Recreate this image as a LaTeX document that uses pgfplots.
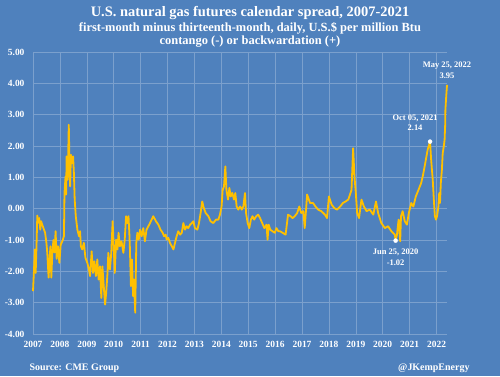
\documentclass[border=0pt]{standalone}
\usepackage{pgfplots}
\pgfplotsset{compat=1.18}
\usepackage{fontspec}
\setmainfont{Liberation Serif}
\definecolor{bg}{RGB}{79,129,189}
\definecolor{gold}{RGB}{255,192,0}
\begin{document}
\begin{tikzpicture}[x=1bp,y=1bp]
\fill[bg] (0,0) rectangle (500,376);
\useasboundingbox (0,0) rectangle (500,376);
\node[white,font=\bfseries\fontsize{14.5}{16}\selectfont] at (250,363) {U.S. natural gas futures calendar spread, 2007-2021};
\node[white,font=\bfseries\fontsize{12.5}{14}\selectfont] at (250,348) {first-month minus thirteenth-month, daily, U.S.\$ per million Btu};
\node[white,font=\bfseries\fontsize{12.5}{14}\selectfont] at (250,334) {contango (-) or backwardation (+)};
\node[white,anchor=west,font=\bfseries\fontsize{10}{12}\selectfont] at (26,8) {Source: CME Group};
\node[white,anchor=east,font=\bfseries\fontsize{10}{12}\selectfont] at (473,8) {@JKempEnergy};
\begin{axis}[
  at={(33bp,42bp)}, anchor=south west,
  scale only axis, width=414bp, height=282bp,
  xmin=2007, xmax=2022.39, ymin=-4, ymax=5,
  clip=false,
  axis line style={draw=none},
  tick style={draw=none},
  grid=major,
  grid style={color=white!25!bg, line width=0.6bp},
  xtick={2007,2008,...,2022},
  xticklabels={2007,2008,2009,2010,2011,2012,2013,2014,2015,2016,2017,2018,2019,2020,2021,2022},
  ytick={-4,-3,...,5},
  yticklabel={\pgfmathprintnumber[fixed,fixed zerofill,precision=2,assume math mode=true]{\tick}},
  xticklabel style={white,font=\bfseries\fontsize{9.5}{10}\selectfont,yshift=-4bp},
  yticklabel style={white,font=\bfseries\fontsize{9.5}{10}\selectfont,xshift=-5bp},
]
\addplot[gold, line width=1.8bp, line join=round] coordinates {
(2007.00,-2.63) (2007.04,-1.9) (2007.07,-1.30) (2007.10,-2.05) (2007.13,-1.2) (2007.16,-0.22)
(2007.19,-0.45) (2007.23,-0.30) (2007.27,-0.67) (2007.30,-0.40) (2007.36,-0.55) (2007.45,-0.77)
(2007.50,-1.10) (2007.53,-1.41) (2007.58,-2.20) (2007.62,-1.55) (2007.65,-1.20) (2007.68,-2.20)
(2007.72,-1.40) (2007.76,-1.00) (2007.80,-1.40) (2007.84,-0.72) (2007.88,-1.60) (2007.93,-1.20)
(2007.98,-1.73) (2008.03,-1.15) (2008.09,-1.04) (2008.15,-0.88) (2008.17,0.50) (2008.21,1.03)
(2008.23,0.45) (2008.25,1.67) (2008.29,0.92) (2008.31,1.8) (2008.33,2.68) (2008.35,1.77)
(2008.38,0.71) (2008.41,1.72) (2008.45,1.45) (2008.49,1.67) (2008.52,1.14) (2008.55,0.29)
(2008.59,-0.24) (2008.65,-0.67) (2008.71,-0.88) (2008.75,-0.72) (2008.78,-1.20) (2008.83,-1.30)
(2008.89,-1.09) (2008.95,-1.57) (2009.02,-1.73) (2009.08,-1.94) (2009.12,-2.15) (2009.18,-1.36)
(2009.23,-2.05) (2009.28,-1.68) (2009.34,-2.15) (2009.39,-1.62) (2009.44,-2.26) (2009.49,-1.84)
(2009.54,-2.85) (2009.58,-1.84) (2009.63,-2.47) (2009.68,-3.06) (2009.72,-2.69) (2009.77,-2.05)
(2009.80,-1.41) (2009.86,-1.94) (2009.91,-1.41) (2009.96,-0.40) (2010.00,-1.20) (2010.04,-2.05)
(2010.09,-0.99) (2010.14,-1.30) (2010.18,-0.77) (2010.23,-1.20) (2010.29,-1.04) (2010.36,-1.41)
(2010.41,-0.99) (2010.46,-0.24) (2010.51,-0.46) (2010.55,-0.24) (2010.58,-0.77) (2010.60,-1.20)
(2010.64,-2.47) (2010.68,-1.62) (2010.72,-2.79) (2010.75,-2.26) (2010.80,-3.32) (2010.84,-1.09)
(2010.88,-0.77) (2010.93,-0.99) (2010.98,-0.67) (2011.04,-0.88) (2011.10,-0.62) (2011.16,-1.04)
(2011.22,-0.67) (2011.32,-0.51) (2011.41,-0.35) (2011.47,-0.24) (2011.57,-0.40) (2011.66,-0.51)
(2011.74,-0.67) (2011.82,-0.77) (2011.87,-0.88) (2011.93,-0.83) (2011.97,-0.99) (2012.03,-0.93)
(2012.09,-1.09) (2012.16,-1.20) (2012.22,-1.30) (2012.28,-1.09) (2012.34,-0.88) (2012.40,-0.72)
(2012.47,-0.83) (2012.53,-0.77) (2012.59,-0.46) (2012.65,-0.67) (2012.71,-0.56) (2012.77,-0.62)
(2012.84,-0.51) (2012.90,-0.46) (2012.96,-0.40) (2013.02,-0.62) (2013.11,-0.67) (2013.17,-0.46)
(2013.23,-0.14) (2013.29,0.23) (2013.35,0.02) (2013.42,-0.14) (2013.52,-0.24) (2013.60,-0.40)
(2013.70,-0.46) (2013.80,-0.35) (2013.89,-0.35) (2013.95,-0.19) (2014.01,0.07) (2014.05,0.60)
(2014.10,0.71) (2014.15,1.35) (2014.19,0.60) (2014.25,0.29) (2014.30,0.66) (2014.35,0.39)
(2014.41,0.50) (2014.47,0.29) (2014.52,0.50) (2014.57,0.07) (2014.63,-0.03) (2014.70,0.07)
(2014.76,-0.03) (2014.82,0.07) (2014.88,0.50) (2014.92,-0.14) (2014.98,-0.46) (2015.04,-0.62)
(2015.10,-0.35) (2015.16,-0.24) (2015.22,-0.35) (2015.30,-0.24) (2015.37,-0.19) (2015.44,-0.30)
(2015.52,-0.46) (2015.60,-0.62) (2015.68,-0.51) (2015.72,-0.99) (2015.76,-0.51) (2015.82,-0.67)
(2015.90,-0.72) (2015.99,-0.77) (2016.05,-0.62) (2016.12,-0.72) (2016.18,-0.72) (2016.28,-0.77)
(2016.39,-0.83) (2016.48,-0.19) (2016.57,-0.24) (2016.65,-0.30) (2016.73,-0.24) (2016.82,-0.14)
(2016.90,0.07) (2016.97,-0.14) (2017.05,-0.08) (2017.10,-0.62) (2017.19,0.45) (2017.30,0.18)
(2017.41,0.18) (2017.50,0.07) (2017.60,-0.03) (2017.72,-0.08) (2017.85,-0.19) (2017.93,-0.30)
(2018.00,0.39) (2018.10,0.13) (2018.20,0.02) (2018.30,-0.03) (2018.42,0.07) (2018.52,0.18)
(2018.62,0.23) (2018.72,0.29) (2018.84,0.60) (2018.90,1.93) (2018.95,1.03) (2019.00,0.50)
(2019.05,-0.14) (2019.12,-0.30) (2019.21,0.29) (2019.30,0.07) (2019.40,-0.08) (2019.52,-0.03)
(2019.65,-0.19) (2019.75,0.23) (2019.83,-0.14) (2019.95,-0.46) (2020.08,-0.62) (2020.20,-0.56)
(2020.32,-0.72) (2020.45,-0.83) (2020.48,-1.02) (2020.53,-0.83) (2020.59,-0.35) (2020.65,-1.04)
(2020.68,-0.24) (2020.74,-0.08) (2020.82,-0.40) (2020.90,-0.51) (2020.97,-0.14) (2021.06,0.18)
(2021.14,0.07) (2021.23,0.39) (2021.33,0.60) (2021.43,0.82) (2021.50,1.08) (2021.58,1.45)
(2021.67,1.88) (2021.76,2.14) (2021.80,1.56) (2021.86,0.92) (2021.90,0.29) (2021.94,-0.24)
(2021.98,-0.35) (2022.02,-0.24) (2022.07,0.07) (2022.10,0.50) (2022.13,0.18) (2022.16,0.82)
(2022.20,1.24) (2022.23,1.77) (2022.27,1.99) (2022.30,2.20) (2022.32,2.62) (2022.33,3.15)
(2022.36,3.58) (2022.39,3.95)
};
\addplot[only marks, mark=*, mark size=2bp, white] coordinates {(2020.48,-1.02) (2021.76,2.14)};
\node[white,align=center,anchor=north,yshift=-5bp,font=\bfseries\fontsize{8.5}{11}\selectfont] at (axis cs:2020.48,-1.02) {Jun 25, 2020\\-1.02};
\node[white,align=center,anchor=south,xshift=-15bp,yshift=7bp,font=\bfseries\fontsize{8.5}{11}\selectfont] at (axis cs:2021.76,2.14) {Oct 05, 2021\\2.14};
\node[white,align=center,anchor=south,yshift=3bp,font=\bfseries\fontsize{8.5}{11}\selectfont] at (axis cs:2022.39,3.95) {May 25, 2022\\3.95};
\end{axis}
\end{tikzpicture}
\end{document}
